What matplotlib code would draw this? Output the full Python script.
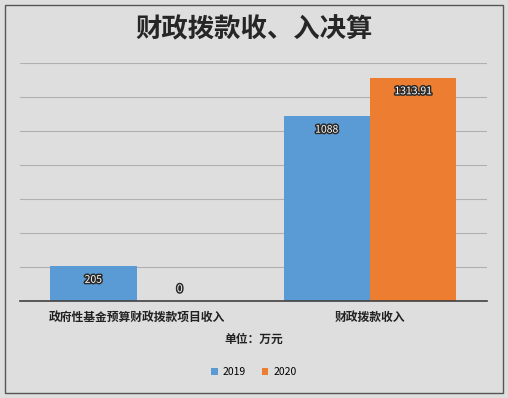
import matplotlib.pyplot as plt
import matplotlib.patheffects as pe
from matplotlib.patches import Rectangle
import numpy as np

plt.rcParams['font.family'] = ['Noto Sans CJK SC', 'DejaVu Sans']

categories = ['政府性基金预算财政拨款项目收入', '财政拨款收入']
years = ['2019', '2020']
v2019 = [205, 1088]
v2020 = [0, 1313.91]
labels2019 = ['205', '1088']
labels2020 = ['0', '1313.91']
colors = ['#5B9BD5', '#ED7D31']

bg = '#dedede'
fig = plt.figure(figsize=(5.08, 3.98), dpi=100, facecolor=bg)
ax = fig.add_axes([0.039, 0.2437, 0.919, 0.598])
ax.set_facecolor('none')

x = np.arange(len(categories))
w = 0.37
outline = [pe.withStroke(linewidth=2.2, foreground='#2a2a2a')]

b1 = ax.bar(x - w / 2, v2019, w, color=colors[0], label=years[0], zorder=3)
b2 = ax.bar(x + w / 2, v2020, w, color=colors[1], label=years[1], zorder=3)

# data labels inside end of bar, white with dark outline
for bars, labs in [(b1, labels2019), (b2, labels2020)]:
    for b, t in zip(bars, labs):
        h = b.get_height()
        y = h - 80 if h > 100 else h + 70
        ax.text(b.get_x() + b.get_width() / 2, y, t, ha='center', va='center',
                color='white', fontsize=7.5, path_effects=outline, zorder=4)

ax.set_xlim(-0.5, 1.5)
ax.set_ylim(0, 1400)
ax.set_yticks(np.arange(200, 1401, 200))
ax.yaxis.grid(True, color='#b0b0b0', linewidth=0.8, zorder=0)
ax.tick_params(left=False, labelleft=False, bottom=False)
ax.set_xticks(x)
ax.set_xticklabels(categories, fontsize=8.5, fontweight='bold', color='#222222')
for s in ['top', 'right', 'left']:
    ax.spines[s].set_visible(False)
ax.spines['bottom'].set_color('#404040')
ax.spines['bottom'].set_linewidth(1.2)
ax.spines['bottom'].set_zorder(5)

fig.text(0.5, 0.925, '财政拨款收、入决算', ha='center', va='center',
         fontsize=19, fontweight='bold', color='#262626')
fig.text(0.5, 0.148, '单位：万元', ha='center', va='center',
         fontsize=8.5, fontweight='bold', color='#222222')

fig.legend(loc='center', bbox_to_anchor=(0.5, 0.065), ncol=2, frameon=False,
           fontsize=7.5, handlelength=0.6, handleheight=0.6, columnspacing=1.5,
           handletextpad=0.5)

fig.patches.append(Rectangle((0.01, 0.012), 0.98, 0.976, transform=fig.transFigure,
                             fill=False, edgecolor='#555555', linewidth=1))

fig.savefig('out.png', dpi=100, facecolor=bg)
